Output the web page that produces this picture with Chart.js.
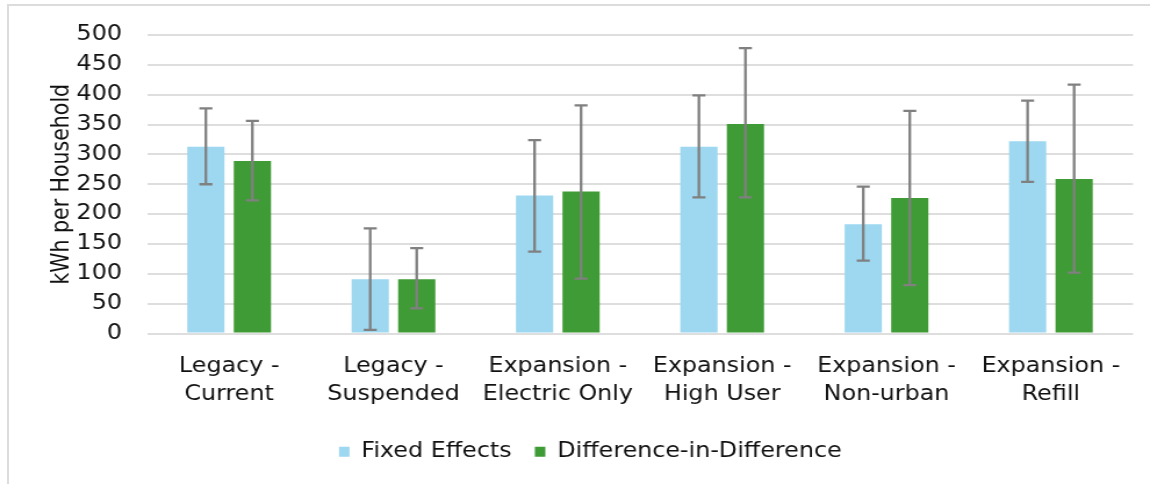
<!DOCTYPE html>
<html>
<head>
<meta charset="utf-8">
<script src="https://cdn.jsdelivr.net/npm/chart.js@4/dist/chart.umd.min.js"></script>
<style>
  html, body { margin: 0; padding: 0; background: #fff; }
  #wrap { position: relative; width: 1150px; height: 484px; overflow: hidden; }
  #frameTop { position: absolute; left: 7px; top: 4px; width: 1143px; height: 2px; background: #dcdcdc; }
  #frameLeft { position: absolute; left: 7px; top: 4px; width: 2px; height: 480px; background: #dcdcdc; }
  canvas { position: absolute; left: 0; top: 0; }
</style>
</head>
<body>
<div id="wrap">
  <div id="frameTop"></div>
  <div id="frameLeft"></div>
  <!-- the source figure is stretched wide, so the canvas is drawn narrower and widened by css -->
  <canvas id="savingsChart" width="990" height="484" style="width:1150px;height:484px"></canvas>
</div>
<script>
const categories = [
    ['Legacy -', 'Current'],
    ['Legacy -', 'Suspended'],
    ['Expansion -', 'Electric Only'],
    ['Expansion -', 'High User'],
    ['Expansion -', 'Non-urban'],
    ['Expansion -', 'Refill']
];
const fixedEffects = [313, 91, 231, 313, 183, 322];
const fixedLow = [250, 6, 137, 228, 122, 254];
const fixedHigh = [377, 176, 324, 399, 246, 390];
const diffInDiff = [289, 91, 238, 351, 227, 259];
const diffLow = [223, 42, 92, 228, 81, 102];
const diffHigh = [356, 143, 382, 478, 373, 417];
const yTicks = [0, 50, 100, 150, 200, 250, 300, 350, 400, 450, 500];

// error bars drawn from the low/high arrays through the y scale
const errorBars = {
    id: 'errorBars',
    afterDatasetsDraw(chart) {
        const ctx = chart.ctx;
        const y = chart.scales.y;
        chart.data.datasets.forEach(function (ds, i) {
            const meta = chart.getDatasetMeta(i);
            meta.data.forEach(function (bar, j) {
                const top = y.getPixelForValue(ds.errHigh[j]);
                const bottom = y.getPixelForValue(ds.errLow[j]);
                ctx.save();
                ctx.strokeStyle = '#808080';
                ctx.lineWidth = 2.3;
                ctx.beginPath();
                ctx.moveTo(bar.x, top);
                ctx.lineTo(bar.x, bottom);
                ctx.moveTo(bar.x - 5.6, top);
                ctx.lineTo(bar.x + 5.6, top);
                ctx.moveTo(bar.x - 5.6, bottom);
                ctx.lineTo(bar.x + 5.6, bottom);
                ctx.stroke();
                ctx.restore();
            });
        });
    }
};

Chart.defaults.font.family = 'DejaVu Sans, Verdana, sans-serif';
Chart.defaults.font.size = 20.5;
Chart.defaults.color = '#111';

const ctxSavings = document.getElementById('savingsChart').getContext('2d');
const savingsChart = new Chart(ctxSavings, {
    type: 'bar',
    data: {
        labels: categories,
        datasets: [{
            label: 'Fixed Effects',
            data: fixedEffects,
            errLow: fixedLow,
            errHigh: fixedHigh,
            backgroundColor: '#9dd7f0'
        }, {
            label: 'Difference-in-Difference',
            data: diffInDiff,
            errLow: diffLow,
            errHigh: diffHigh,
            backgroundColor: '#3f9b35'
        }]
    },
    options: {
        responsive: false,
        animation: false,
        layout: {
            padding: { left: 41, right: 14.6, top: 35, bottom: 12 }
        },
        datasets: {
            bar: { categoryPercentage: 0.566, barPercentage: 0.8 }
        },
        plugins: {
            legend: {
                position: 'bottom',
                labels: {
                    boxWidth: 9,
                    boxHeight: 10,
                    padding: 20
                }
            },
            tooltip: { enabled: false }
        },
        scales: {
            x: {
                grid: { display: false },
                border: { display: false },
                afterFit: function (scale) { scale.height = 88; },
                ticks: {
                    maxRotation: 0,
                    padding: 11,
                    font: { lineHeight: 1.366 }
                }
            },
            y: {
                min: 0,
                max: 500,
                afterBuildTicks: function (scale) {
                    scale.ticks = yTicks.map(function (v) { return { value: v }; });
                },
                afterFit: function (scale) { scale.width = 85.5; },
                grid: { color: '#dedede', lineWidth: 2, drawTicks: false },
                border: { display: false },
                ticks: { padding: 21.5 },
                title: {
                    display: true,
                    text: 'kWh per Household',
                    padding: 0
                }
            }
        }
    },
    plugins: [errorBars]
});
</script>
</body>
</html>
